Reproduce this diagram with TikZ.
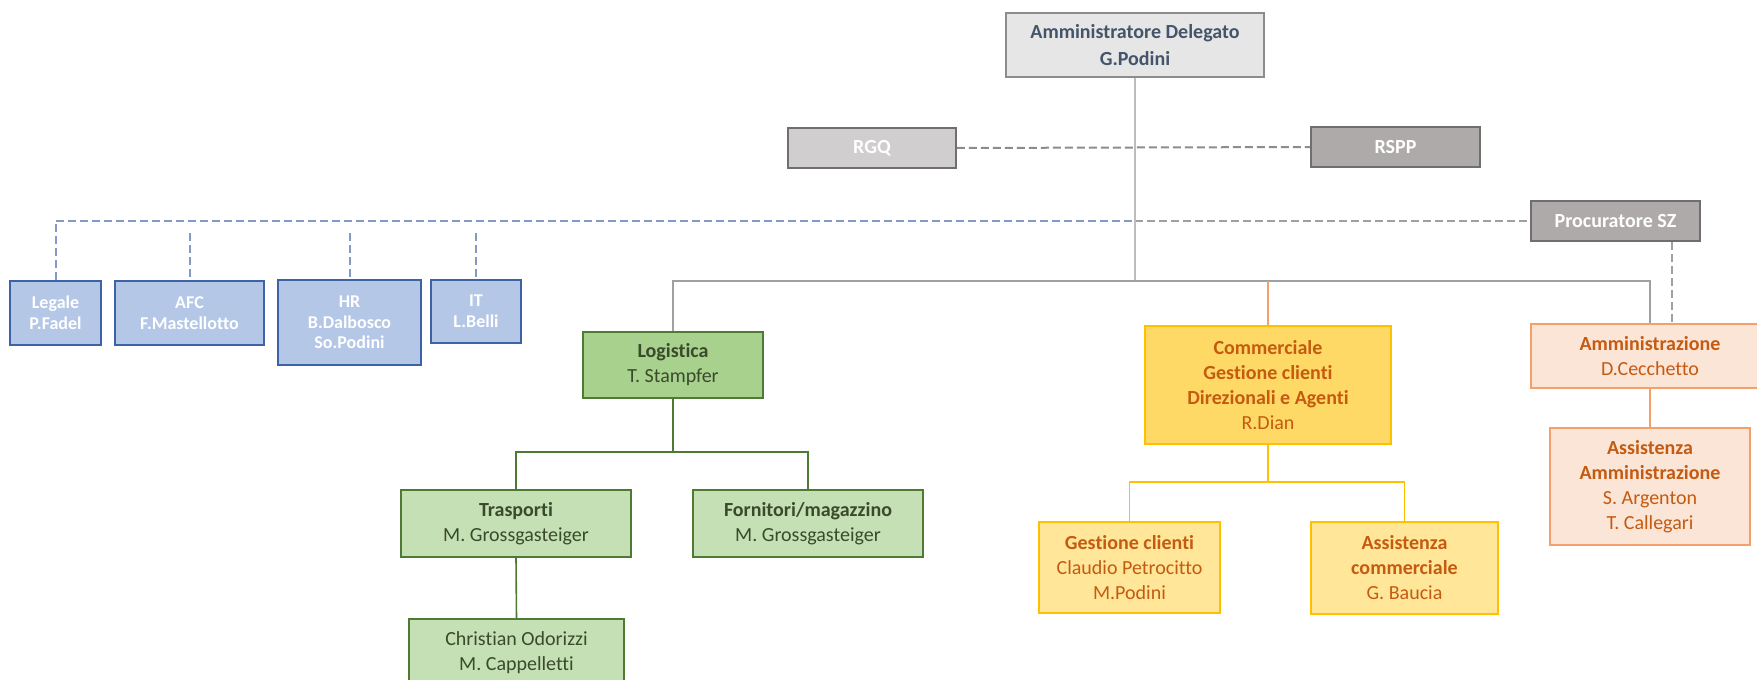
\documentclass[tikz,border=0pt]{standalone}
\usepackage{fontspec}
\setmainfont[Ligatures=NoCommon]{Carlito}
\definecolor{adfill}{HTML}{E7E6E6}
\definecolor{adtext}{HTML}{44546A}
\definecolor{grayA}{HTML}{D0CECE}
\definecolor{grayB}{HTML}{AEAAAA}
\definecolor{grayborder}{HTML}{6F6F6F}
\definecolor{blfill}{HTML}{B4C7E7}
\definecolor{blborder}{HTML}{3D62A8}
\definecolor{bldash}{HTML}{8499C6}
\definecolor{gnfill}{HTML}{A9D18E}
\definecolor{gnlight}{HTML}{C5E0B4}
\definecolor{gnborder}{HTML}{4E7A33}
\definecolor{gntext}{HTML}{3A4A2C}
\definecolor{yefill}{HTML}{FFD966}
\definecolor{yelight}{HTML}{FFE699}
\definecolor{yeborder}{HTML}{FFC000}
\definecolor{ortext}{HTML}{C55A11}
\definecolor{orfill}{HTML}{FBE5D6}
\definecolor{orborder}{HTML}{F4A06A}
\definecolor{linegray}{HTML}{A0A0A0}
\tikzset{
  wh/.style 2 args={minimum width=#1*0.5pt, minimum height=#2*0.5pt},
  box/.style={draw, line width=0.8pt, inner sep=0pt, align=center,
    font=\fontsize{10pt}{12.5pt}\selectfont},
  adbox/.style={box, fill=adfill, draw=grayborder!80, text=adtext, font=\bfseries\fontsize{10pt}{13.5pt}\selectfont},
  gabox/.style={box, fill=grayA, draw=grayborder, text=white, font=\bfseries\fontsize{10pt}{12.5pt}\selectfont},
  gbbox/.style={box, fill=grayB, draw=grayborder, text=white, font=\bfseries\fontsize{10pt}{12.5pt}\selectfont},
  blbox/.style={box, fill=blfill, draw=blborder, text=white, font=\bfseries\fontsize{9pt}{10.3pt}\selectfont},
  gnbox/.style={box, fill=gnfill, draw=gnborder, text=gntext},
  gnlbox/.style={box, fill=gnlight, draw=gnborder, text=gntext},
  yebox/.style={box, fill=yefill, draw=yeborder, text=ortext},
  yelbox/.style={box, fill=yelight, draw=yeborder, text=ortext},
  orbox/.style={box, fill=orfill, draw=orborder, text=ortext},
  mainline/.style={draw=linegray, line width=0.8pt},
  adline/.style={draw=linegray!70, line width=0.8pt},
  gnline/.style={draw=gnborder, line width=0.8pt},
  yeline/.style={draw=yeborder, line width=0.8pt},
  orline/.style={draw=orborder, line width=0.8pt},
  bldashed/.style={draw=bldash, line width=1pt, dash pattern=on 4pt off 2pt},
  grdashed/.style={draw=linegray, line width=1pt, dash pattern=on 4pt off 2pt},
  grdashedB/.style={draw=grayborder!80, line width=1pt, dash pattern=on 4pt off 2pt},
}
\begin{document}
\begin{tikzpicture}[x=0.5pt,y=-0.5pt]
\clip (0,0) rectangle (1757,680);
\fill[white] (0,0) rectangle (1757,680);
% nodes
\node[adbox, wh={258}{64}] (ad) at (1135,45) {Amministratore Delegato\\G.Podini};
\node[gabox, wh={168}{40}] (rgq) at (872,148) {RGQ};
\node[gbbox, wh={169}{40}] (rspp) at (1395.5,147) {RSPP};
\node[gbbox, wh={169}{40}] (proc) at (1615.5,221) {Procuratore SZ};
\node[blbox, wh={91}{64}] (leg) at (55.5,313) {Legale\\P.Fadel};
\node[blbox, wh={149}{64}] (afc) at (189.5,313) {AFC\\F.Mastellotto};
\node[blbox, wh={143}{85}] (hr) at (349.5,322.5) {HR\\B.Dalbosco\\So.Podini};
\node[blbox, wh={90}{63}] (it) at (476,311.5) {IT\\L.Belli};
\node[gnbox, wh={180}{66}] (log) at (673,365) {\textbf{Logistica}\\T. Stampfer};
\node[gnlbox, wh={230}{67}] (tra) at (516,523.5) {\textbf{Trasporti}\\M. Grossgasteiger};
\node[gnlbox, wh={230}{67}] (forn) at (808,523.5) {\textbf{Fornitori/magazzino}\\M. Grossgasteiger};
\node[gnlbox, wh={215}{68}] (chr) at (516.5,653) {Christian Odorizzi\\M. Cappelletti};
\node[yebox, wh={246}{118}] (comm) at (1268,385) {\textbf{Commerciale}\\\textbf{Gestione clienti}\\\textbf{Direzionali e Agenti}\\R.Dian};
\node[yelbox, wh={181}{91}] (gest) at (1129.5,567.5) {\textbf{Gestione clienti}\\Claudio Petrocitto\\M.Podini};
\node[yelbox, wh={187}{92}] (asscom) at (1404.5,568) {\textbf{Assistenza}\\\textbf{commerciale}\\G. Baucia};
\node[orbox, wh={238}{64}] (amm) at (1650,356) {\textbf{Amministrazione}\\D.Cecchetto};
\node[orbox, wh={200}{117}] (assamm) at (1650,486.5) {\textbf{Assistenza}\\\textbf{Amministrazione}\\S. Argenton\\T. Callegari};
% helper coordinates
\coordinate (bus) at (0,281);
\coordinate (dash) at (0,221);
\coordinate (dtop) at (0,233);
\coordinate (pcx) at (1672,0);
\coordinate (lbus) at (0,452);
\coordinate (cbus) at (0,482);
% connectors
\draw[grdashedB] (rgq.east) -- (rspp.west);
\draw[bldashed] (leg.north) |- (ad.south |- dash);
\draw[grdashed] (ad.south |- dash) -- (proc.west);
\draw[bldashed] (afc.north |- dtop) -- (afc.north);
\draw[bldashed] (hr.north |- dtop) -- (hr.north);
\draw[bldashed] (it.north |- dtop) -- (it.north);
\draw[grdashed] (proc.south -| pcx) -- (amm.north -| pcx);
\draw[adline] (ad.south) -- (ad.south |- bus);
\draw[mainline] (log.north) |- (amm.north |- bus) -- (amm.north);
\draw[orline] (comm.north |- bus) -- (comm.north);
\draw[orline] (amm.south) -- (assamm.north);
\draw[gnline] (log.south) -- (log.south |- lbus);
\draw[gnline] (tra.north) |- (forn.north |- lbus) -- (forn.north);
\draw[gnline] (tra.south) -- (chr.north);
\draw[yeline] (comm.south) -- (comm.south |- cbus);
\draw[yeline] (gest.north) |- (asscom.north |- cbus) -- (asscom.north);
\end{tikzpicture}
\end{document}
